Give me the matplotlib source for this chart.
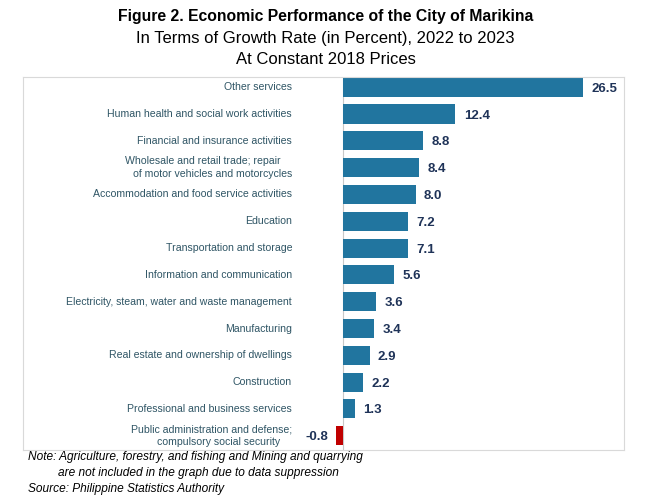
import matplotlib.pyplot as plt
from matplotlib import transforms

plt.rcParams['font.family'] = ['Liberation Sans', 'DejaVu Sans']

# industries, top to bottom
industries = [
    'Other services',
    'Human health and social work activities',
    'Financial and insurance activities',
    'Wholesale and retail trade; repair    \nof motor vehicles and motorcycles',
    'Accommodation and food service activities',
    'Education',
    'Transportation and storage',
    'Information and communication',
    'Electricity, steam, water and waste management',
    'Manufacturing',
    'Real estate and ownership of dwellings',
    'Construction',
    'Professional and business services',
    'Public administration and defense;\ncompulsory social security    ',
]
growth = [26.5, 12.4, 8.8, 8.4, 8.0, 7.2, 7.1, 5.6, 3.6, 3.4, 2.9, 2.2, 1.3, -0.8]

W, H = 651, 499
fig = plt.figure(figsize=(W / 100, H / 100), dpi=100)
# axes = the light grey frame
ax = fig.add_axes([23 / W, 1 - 450 / H, (624 - 23) / W, (450 - 77) / H])

blue = '#21759F'
red = '#C00000'
navy = '#1F3358'
colors = [red if v < 0 else blue for v in growth]
ypos = list(range(len(growth)))

ax.barh(ypos, growth, height=0.71, color=colors, zorder=2)
ax.axvline(0, color='#C8C8C8', lw=0.8, zorder=1)

ax.set_xlim(-35.45, 31.05)
ax.set_ylim(13.53, -0.38)
ax.set_xticks([])
ax.set_yticks([])
for s in ax.spines.values():
    s.set_color('#D9D9D9')
    s.set_linewidth(0.8)

# value labels
for y, v in zip(ypos, growth):
    if v >= 0:
        ax.annotate(f'{v:.1f}', (v, y), xytext=(6, 0), textcoords='offset points',
                    ha='left', va='center_baseline', fontsize=9.5, fontweight='bold', color=navy)
    else:
        ax.annotate(f'{v:.1f}', (v, y), xytext=(-6, 0), textcoords='offset points',
                    ha='right', va='center_baseline', fontsize=9.5, fontweight='bold', color=navy)

# category labels
trans = transforms.blended_transform_factory(ax.transAxes, ax.transData)
lab_x = (292 - 23) / (624 - 23)
for y, name in zip(ypos, industries):
    ax.text(lab_x, y, name, transform=trans, ha='right', va='center',
            multialignment='right', fontsize=7.6, color='#2F5565', linespacing=1.4)

# titles
fig.text(0.5, 1 - 17 / H, 'Figure 2. Economic Performance of the City of Marikina',
         ha='center', va='center', fontsize=11.3, fontweight='bold')
fig.text(0.5, 1 - 38 / H, 'In Terms of Growth Rate (in Percent), 2022 to 2023',
         ha='center', va='center', fontsize=12)
fig.text(0.5, 1 - 59 / H, 'At Constant 2018 Prices',
         ha='center', va='center', fontsize=12)

# notes
fig.text(28 / W, 1 - 457 / H, 'Note: Agriculture, forestry, and fishing and Mining and quarrying',
         ha='left', va='center', fontsize=8.6, style='italic')
fig.text(58 / W, 1 - 473 / H, 'are not included in the graph due to data suppression',
         ha='left', va='center', fontsize=8.6, style='italic')
fig.text(28 / W, 1 - 489 / H, 'Source: Philippine Statistics Authority',
         ha='left', va='center', fontsize=8.6, style='italic')

fig.savefig('out.png', dpi=100)
